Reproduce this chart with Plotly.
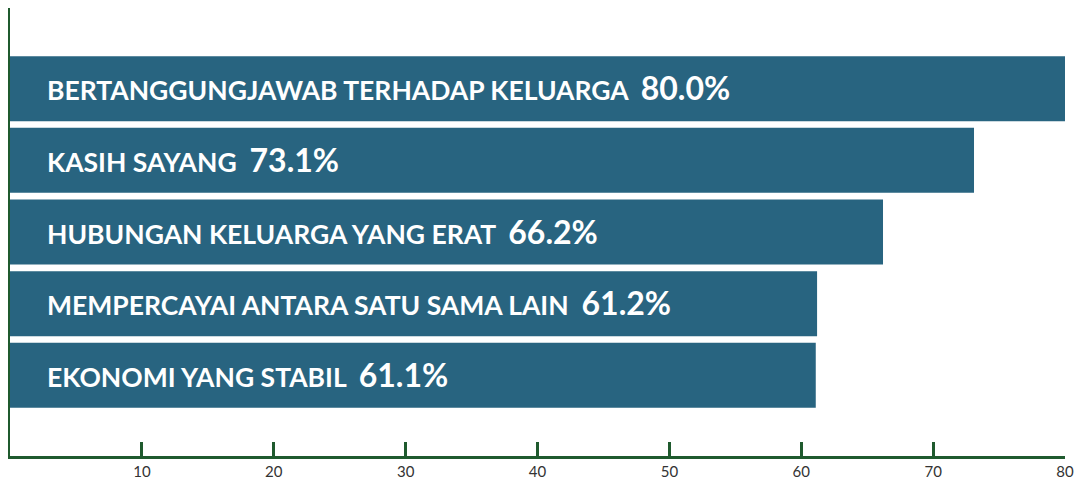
import plotly.graph_objects as go

categories = [
    "BERTANGGUNGJAWAB TERHADAP KELUARGA",
    "KASIH SAYANG",
    "HUBUNGAN KELUARGA YANG ERAT",
    "MEMPERCAYAI ANTARA SATU SAMA LAIN",
    "EKONOMI YANG STABIL",
]
values = [80.0, 73.1, 66.2, 61.2, 61.1]
tick_values = [10, 20, 30, 40, 50, 60, 70, 80]

BAR = "#286480"
AXIS = "#1f5a2e"

fig = go.Figure()
fig.add_trace(go.Bar(
    y=categories, x=values, orientation="h",
    marker=dict(color=BAR, line=dict(width=0)),
    hoverinfo="skip",
))

for c, v in zip(categories, values):
    fig.add_annotation(
        x=0, y=c, xref="x", yref="y", xanchor="left", yanchor="middle",
        xshift=35, yshift=1, showarrow=False,
        text=f"<b>{c}&nbsp;&nbsp;<span style='font-size:32px'>{v:.1f}%</span></b>",
        font=dict(family="Lato", size=26.5, color="white"),
    )

fig.update_layout(
    width=1077, height=475,
    margin=dict(l=2, r=20, t=0, b=27),
    paper_bgcolor="white", plot_bgcolor="white",
    showlegend=False,
    bargap=0.093,
    font=dict(family="Lato", color="#333333"),
)
fig.update_xaxes(
    range=[0, 80], tickvals=tick_values, ticks="inside", ticklen=14, tickwidth=3,
    tickcolor=AXIS, showline=True, linecolor=AXIS, linewidth=3, showgrid=False,
    zeroline=False, tickfont=dict(family="Lato", size=15, color="#333333"),
)
fig.update_yaxes(
    type="category", categoryorder="array", categoryarray=categories,
    range=[4.5 + 0.625, -0.5 - 0.625], showticklabels=False, ticks="",
    showline=True, linecolor=AXIS, linewidth=3, showgrid=False, zeroline=False,
)

fig.write_html("out.html")
